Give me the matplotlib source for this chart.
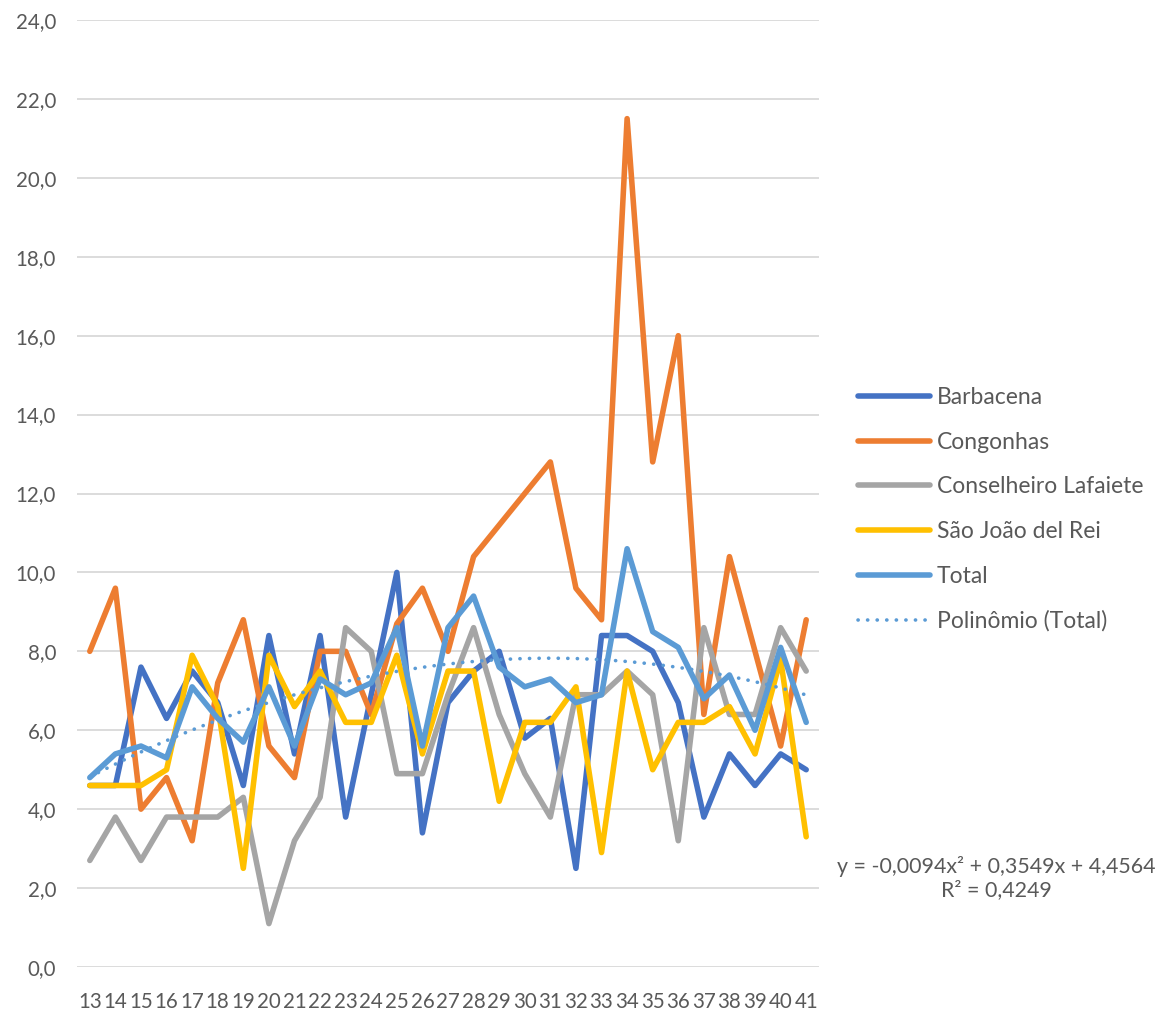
import numpy as np
import matplotlib
matplotlib.use("Agg")
import matplotlib.pyplot as plt

plt.rcParams['font.family'] = ['Lato', 'DejaVu Sans']

categories = [str(v) for v in range(13, 42)]
barbacena = [4.6, 4.6, 7.6, 6.3, 7.5, 6.7, 4.6, 8.4, 5.4, 8.4, 3.8, 6.9, 10.0, 3.4, 6.7,
             7.5, 8.0, 5.8, 6.3, 2.5, 8.4, 8.4, 8.0, 6.7, 3.8, 5.4, 4.6, 5.4, 5.0]
congonhas = [8.0, 9.6, 4.0, 4.8, 3.2, 7.2, 8.8, 5.6, 4.8, 8.0, 8.0, 6.4, 8.7, 9.6, 8.0,
             10.4, 11.2, 12.0, 12.8, 9.6, 8.8, 21.5, 12.8, 16.0, 6.4, 10.4, 8.0, 5.6, 8.8]
conselheiro = [2.7, 3.8, 2.7, 3.8, 3.8, 3.8, 4.3, 1.1, 3.2, 4.3, 8.6, 8.0, 4.9, 4.9, 6.9,
               8.6, 6.4, 4.9, 3.8, 6.9, 6.9, 7.5, 6.9, 3.2, 8.6, 6.4, 6.4, 8.6, 7.5]
sao_joao = [4.6, 4.6, 4.6, 5.0, 7.9, 6.6, 2.5, 7.9, 6.6, 7.5, 6.2, 6.2, 7.9, 5.4, 7.5,
            7.5, 4.2, 6.2, 6.2, 7.1, 2.9, 7.5, 5.0, 6.2, 6.2, 6.6, 5.4, 7.8, 3.3]
total = [4.8, 5.4, 5.6, 5.3, 7.1, 6.3, 5.7, 7.1, 5.6, 7.3, 6.9, 7.2, 8.6, 5.6, 8.6,
         9.4, 7.6, 7.1, 7.3, 6.7, 6.9, 10.6, 8.5, 8.1, 6.8, 7.4, 6.0, 8.1, 6.2]

series_names = ["Barbacena", "Congonhas", "Conselheiro Lafaiete", "São João del Rei", "Total"]
series_colors = ["#4472C4", "#ED7D31", "#A5A5A5", "#FFC000", "#5B9BD5"]
trend_label = "Polinômio (Total)"
equation_text = "y = -0,0094x² + 0,3549x + 4,4564\nR² = 0,4249"
yticks = np.arange(0, 25, 2)

W, H = 1170, 1011
fig = plt.figure(figsize=(W / 100, H / 100), dpi=100)
left, right, bottom, top = 77, 819, 967, 20
ax = fig.add_axes([left / W, 1 - bottom / H, (right - left) / W, (bottom - top) / H])

x = np.arange(len(categories))
text_color = "#595959"
lw = 4.0
handles = []
for vals, name, col in zip([barbacena, congonhas, conselheiro, sao_joao, total],
                           series_names, series_colors):
    ln, = ax.plot(x, vals, color=col, lw=lw, solid_joinstyle='round',
                  solid_capstyle='round', label=name, zorder=3)
    handles.append(ln)

# polynomial trend (order 2) of Total
xf = np.arange(1, len(total) + 1)
coef = np.polyfit(xf, total, 2)
xs = np.linspace(1, len(total), 300)
tr, = ax.plot(xs - 1, np.polyval(coef, xs), color="#5B9BD5", lw=2.6,
              linestyle=(0, (0.05, 2.6)), dash_capstyle='round', label=trend_label, zorder=4)
handles.append(tr)

ax.set_xlim(-0.5, len(categories) - 0.5)
ax.set_ylim(0, 24)
ax.set_yticks(yticks)
ax.set_yticklabels([f"{v:.1f}".replace(".", ",") for v in yticks])
ax.set_xticks(x)
ax.set_xticklabels(categories)
ax.grid(axis='y', color="#D9D9D9", lw=1.3, zorder=0)
ax.set_axisbelow(True)
for s in ax.spines.values():
    s.set_visible(False)
ax.tick_params(axis='both', length=0, colors=text_color, labelsize=14.8)
ax.tick_params(axis='y', pad=15)
ax.tick_params(axis='x', pad=18)

leg = fig.legend(handles=handles, loc='center left',
                 bbox_to_anchor=(858 / W, 1 - 509.5 / H), frameon=False,
                 fontsize=16.5, handlelength=3.15, handletextpad=0.3,
                 labelspacing=1.03, borderpad=0, borderaxespad=0)
for t in leg.get_texts():
    t.set_color(text_color)

fig.text(996 / W, 1 - 878 / H, equation_text, ha='center', va='center',
         multialignment='center', color=text_color, fontsize=15.4, linespacing=1.2)

fig.savefig("out.png", dpi=100, facecolor='white')
